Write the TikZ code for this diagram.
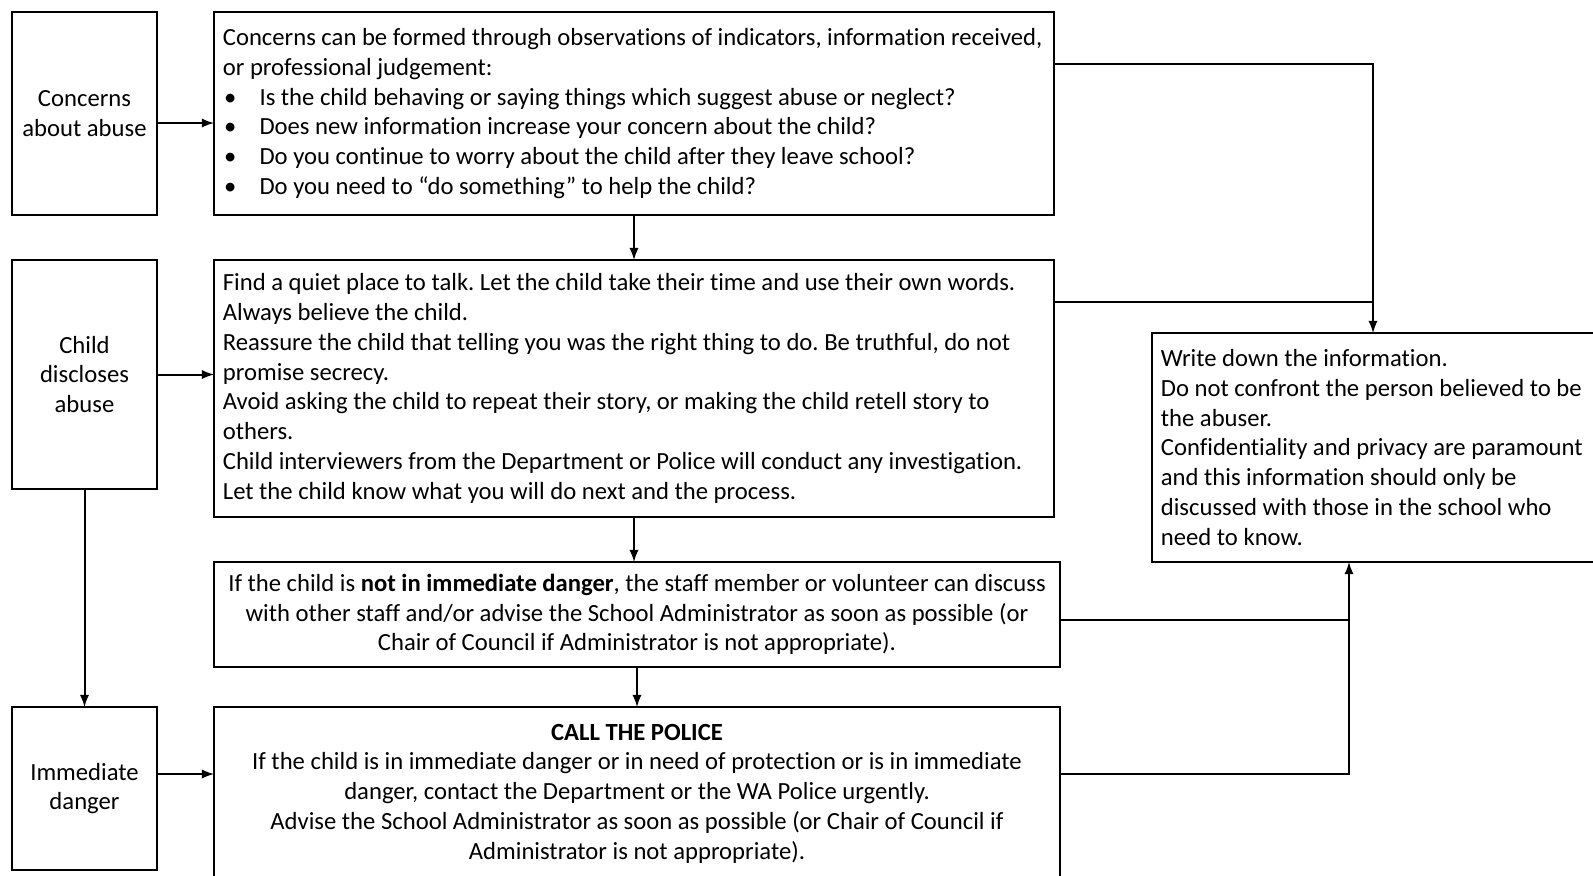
\documentclass[tikz,border=0pt]{standalone}
\usepackage{fontspec}
\setmainfont[Ligatures=NoCommon]{Carlito}
\frenchspacing
\usetikzlibrary{shapes,arrows,positioning,calc}

\tikzset{
  box/.style={draw=black, line width=0.9pt, rectangle, anchor=north west,
    inner sep=4pt, outer sep=0pt, font=\fontsize{11.1}{13.4}\selectfont,
    execute at begin node={\spaceskip=0.226em\xspaceskip=0.226em\relax}},
  sidebox/.style={box, align=center, minimum width=65.25pt},
  stepbox/.style={box, align=left},
  midbox/.style={box, align=center},
  link/.style={line width=0.9pt, black},
}
\newcommand{\bul}{\hspace*{0.5pt}\makebox[16pt][l]{\textbullet}}

\begin{document}
\begin{tikzpicture}[x=0.45pt, y=-0.45pt, >=latex]

\clip (0,0) rectangle (1593,875);
\fill[white] (0,0) rectangle (1593,875);

% ================= LEFT: SITUATIONS =================
\node[sidebox, minimum height=91.35pt] (concern) at (12,12)
{Concerns\\about abuse};

\node[sidebox, minimum height=103.05pt] (discloses) at (12,260)
{Child\\discloses\\abuse};

\node[sidebox, minimum height=73.35pt] (danger) at (12,707)
{Immediate\\danger};

% ================= MIDDLE: STEPS =================
\node[stepbox, text width=370pt, minimum height=91.35pt] (formed) at (214,12)
{Concerns can be formed through observations of indicators, information received,\\
or professional judgement:\\
\bul Is the child behaving or saying things which suggest abuse or neglect?\\
\bul Does new information increase your concern about the child?\\
\bul Do you continue to worry about the child after they leave school?\\
\bul Do you need to “do something” to help the child?};

\node[stepbox, text width=370pt, minimum height=115.65pt] (talk) at (214,260)
{Find a quiet place to talk. Let the child take their time and use their own words.\\
Always believe the child.\\
Reassure the child that telling you was the right thing to do. Be truthful, do not\\
promise secrecy.\\
Avoid asking the child to repeat their story, or making the child retell story to\\
others.\\
Child interviewers from the Department or Police will conduct any investigation.\\
Let the child know what you will do next and the process.};

\node[midbox, text width=372.7pt, minimum height=47.25pt] (advise) at (214,562)
{If the child is \textbf{not in immediate danger}, the staff member or volunteer can discuss\\
with other staff and/or advise the School Administrator as soon as possible (or\\
Chair of Council if Administrator is not appropriate).};

\node[midbox, text width=372.7pt, minimum height=77.85pt] (police) at (214,707)
{\textbf{CALL THE POLICE}\\
If the child is in immediate danger or in need of protection or is in immediate\\
danger, contact the Department or the WA Police urgently.\\
Advise the School Administrator as soon as possible (or Chair of Council if\\
Administrator is not appropriate).};

% ================= RIGHT: RECORD =================
\node[stepbox, text width=193.6pt, minimum height=103.05pt] (write) at (1152,333)
{Write down the information.\\
Do not confront the person believed to be\\
the abuser.\\
Confidentiality and privacy are paramount\\
and this information should only be\\
discussed with those in the school who\\
need to know.};

% Joins on the right
\coordinate (upA) at (1373,64);
\coordinate (upB) at (1373,302);
\coordinate (lowA) at (1349,620);
\coordinate (lowB) at (1349,774);

% ================= CONNECTORS =================
\draw[link, ->] (concern.east |- 0,123) -- (formed.west |- 0,123);
\draw[link, ->] (discloses.east) -- (talk.west |- discloses.east);
\draw[link, ->] (danger.east |- lowB) -- (police.west |- lowB);
\draw[link, ->] (discloses.south) -- (danger.north);

\draw[link, ->] (formed.south) -- (talk.north);
\draw[link, ->] (talk.south) -- (talk.south |- advise.north);
\draw[link, ->] (advise.south) -- (police.north);

\draw[link, ->] (formed.east |- upA) -- (upA) -- (upA |- write.north);
\draw[link] (talk.east |- upB) -- (upB);
\draw[link, ->] (police.east |- lowB) -- (lowB) -- (lowB |- write.south);
\draw[link] (advise.east |- lowA) -- (lowA);

\end{tikzpicture}
\end{document}
